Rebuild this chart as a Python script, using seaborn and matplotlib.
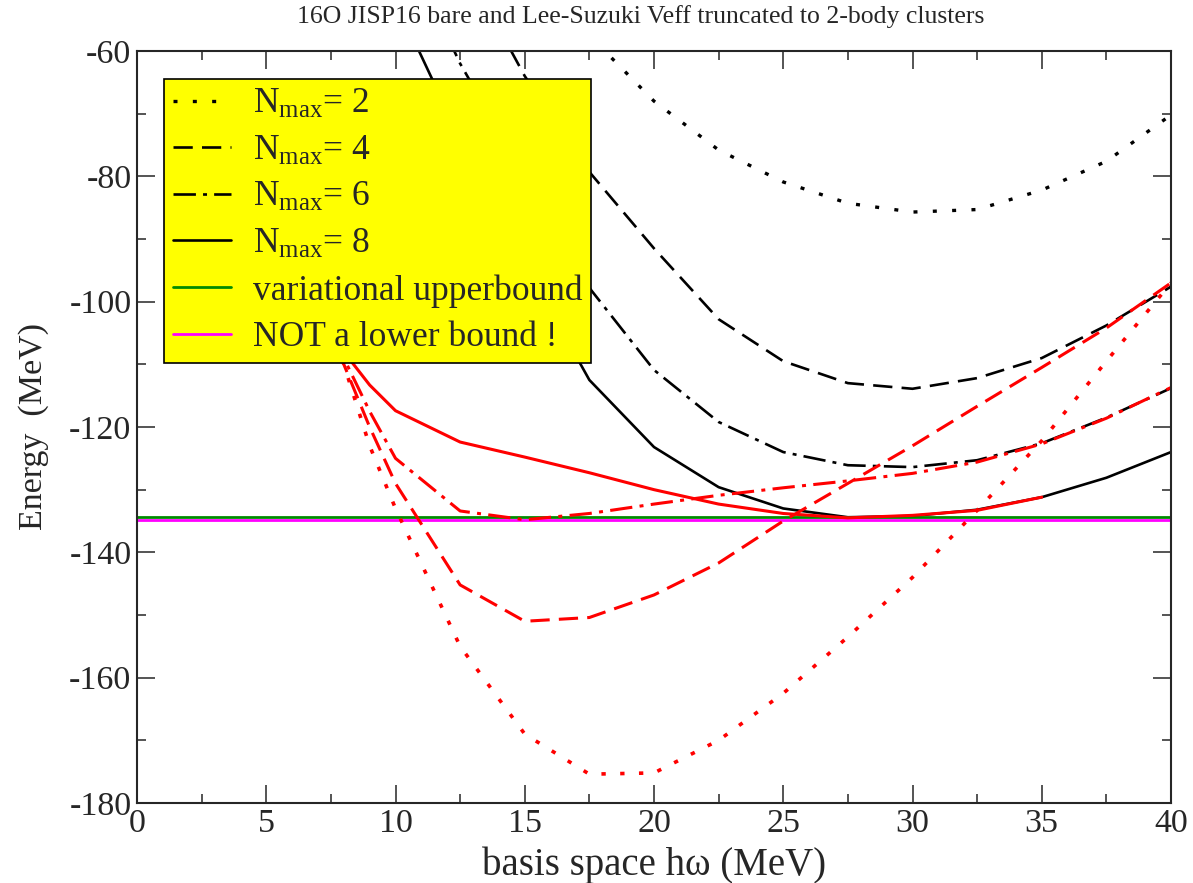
import numpy as np
import matplotlib
matplotlib.use('Agg')
import matplotlib.pyplot as plt
import seaborn as sns
from matplotlib.ticker import MultipleLocator

# bare JISP16 (black), Nmax = 2, 4, 6, 8
hw_bare = [10, 12.5, 15, 17.5, 20, 22.5, 25, 27.5, 30, 32.5, 35, 37.5, 40]
bare_n2 = [-10, -25, -44, -57.5, -68, -75.8, -80.9, -84.3, -85.7, -85.3, -82.2, -77.6, -70.2]
bare_n4 = [-28, -45, -64, -79.3, -91.5, -102.8, -109.5, -113, -113.9, -112.2, -109, -103.8, -97.6]
bare_n6 = [-40, -62, -80, -97.8, -110.9, -119.2, -124, -126.1, -126.4, -125.3, -122.6, -118.5, -113.8]
bare_n8 = [-52, -74, -94, -112.5, -123.2, -129.6, -133, -134.4, -134.2, -133.2, -131.2, -128.1, -124]

# Lee-Suzuki Veff (red)
hw_ls = [7, 8, 9, 10, 12.5, 15, 17.5, 20, 22.5, 25, 27.5, 30, 32.5, 35, 37.5, 40]
ls_n2 = [-98, -110, -123, -133, -155, -169, -175.4, -175.2, -170, -162.5, -153.5, -144, -133.3, -122.2, -109.5, -97]
ls_n4 = [-100, -110, -120, -129, -145.2, -151, -150.4, -146.8, -141.7, -135, -129, -123, -116.7, -110.5, -104.2, -97]
ls_n6 = [-100, -109, -117.5, -125, -133.4, -134.8, -133.8, -132.3, -130.9, -129.7, -128.6, -127.4, -125.6, -122.7, -118.6, -113.7]
ls_n8 = [-103, -108, -113.3, -117.4, -122.4, -124.8, -127.3, -130, -132.3, -133.8, -134.5, -134.1, -133.3, -131.2, np.nan, np.nan]

hline_x = [0, 40]
upper_bound = -134.4
lower_guess = -134.85

legend_labels = [r'N$_{\rm max}$= 2', r'N$_{\rm max}$= 4', r'N$_{\rm max}$= 6', r'N$_{\rm max}$= 8',
                 'variational upperbound', 'NOT a lower bound !']

sns.set_style('ticks')
plt.rcParams['font.family'] = ['Liberation Serif', 'DejaVu Serif']
plt.rcParams['mathtext.fontset'] = 'custom'
plt.rcParams['mathtext.rm'] = 'Liberation Serif'
plt.rcParams['mathtext.it'] = 'Liberation Serif:italic'
plt.rcParams['axes.unicode_minus'] = False

fig = plt.figure(figsize=(11.93, 8.83), dpi=100)
ax = fig.add_axes([137 / 1193, 1 - 803 / 883, 1034 / 1193, 752 / 883])

dot_b = (0, (1.2, 4.6))
dash_b = (0, (7.3, 3.5))
dashdot_b = (0, (8.5, 2.7, 1.5, 2.7))
dot_r = (0, (1.2, 4.0))
dash_r = (0, (6.3, 3.0))
dashdot_r = (0, (7.3, 2.4, 1.3, 2.4))

lwb = 1.9
lwr = 2.2

sns.lineplot(x=hw_bare, y=bare_n2, color='black', lw=2.4, linestyle=dot_b, label=legend_labels[0], ax=ax)
sns.lineplot(x=hw_bare, y=bare_n4, color='black', lw=lwb, linestyle=dash_b, label=legend_labels[1], ax=ax)
sns.lineplot(x=hw_bare, y=bare_n6, color='black', lw=lwb, linestyle=dashdot_b, label=legend_labels[2], ax=ax)
sns.lineplot(x=hw_bare, y=bare_n8, color='black', lw=lwb, label=legend_labels[3], ax=ax)
sns.lineplot(x=hline_x, y=[upper_bound] * 2, color='#008c00', lw=2.0, label=legend_labels[4], ax=ax)
sns.lineplot(x=hline_x, y=[lower_guess] * 2, color='#ff00ff', lw=2.0, label=legend_labels[5], ax=ax)

sns.lineplot(x=hw_ls, y=ls_n2, color='red', lw=2.6, linestyle=dot_r, ax=ax)
sns.lineplot(x=hw_ls, y=ls_n4, color='red', lw=lwr, linestyle=dash_r, ax=ax)
sns.lineplot(x=hw_ls, y=ls_n6, color='red', lw=lwr, linestyle=dashdot_r, ax=ax)
sns.lineplot(x=hw_ls, y=ls_n8, color='red', lw=lwr, ax=ax)

ax.set_xlim(0, 40)
ax.set_ylim(-180, -60)
ax.xaxis.set_major_locator(MultipleLocator(5))
ax.xaxis.set_minor_locator(MultipleLocator(2.5))
ax.yaxis.set_major_locator(MultipleLocator(20))
ax.yaxis.set_minor_locator(MultipleLocator(10))
ax.tick_params(which='major', direction='in', length=13, width=1.1, top=True, right=True, labelsize=24.5)
ax.tick_params(which='minor', direction='in', length=6.5, width=1.1, top=True, right=True)
ax.tick_params(axis='x', pad=4)
ax.tick_params(axis='y', pad=4)
for sp in ax.spines.values():
    sp.set_linewidth(1.5)
    sp.set_visible(True)

ax.set_xlabel('basis space h\u03c9 (MeV)', fontsize=28)
ax.xaxis.set_label_coords(0.5, -0.058)
ax.set_ylabel('Energy  (MeV)', fontsize=24.5)
ax.yaxis.set_label_coords(-0.085, 0.5)

fig.text(641 / 1193, 1 - 17 / 883, '16O JISP16 bare and Lee-Suzuki Veff truncated to 2-body clusters',
         ha='center', va='center', fontsize=18.5)

leg = ax.legend(loc='upper left', bbox_to_anchor=(164 / 1193, 1 - 79 / 883), bbox_transform=fig.transFigure,
                fontsize=25.5, frameon=True, fancybox=False, framealpha=1, facecolor='yellow', edgecolor='black',
                handlelength=1.65, handletextpad=0.6, borderpad=0.25, labelspacing=0.38, borderaxespad=0)
leg.get_frame().set_linewidth(1.2)
leg.set_zorder(10)

fig.savefig('out.png', dpi=100)
